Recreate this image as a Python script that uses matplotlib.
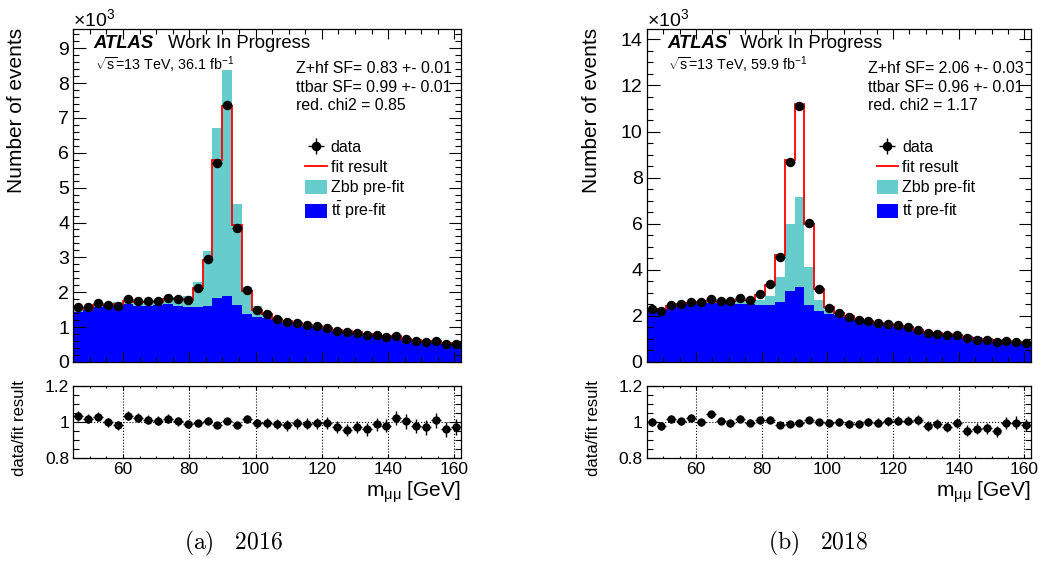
import numpy as np
import matplotlib
matplotlib.use("Agg")
import matplotlib.pyplot as plt
from matplotlib.ticker import MultipleLocator, FuncFormatter
from matplotlib.lines import Line2D
from matplotlib.patches import Patch

plt.rcParams['font.family'] = ['Liberation Sans', 'DejaVu Sans']
plt.rcParams['mathtext.fontset'] = 'custom'
plt.rcParams['mathtext.rm'] = 'Liberation Sans'
plt.rcParams['mathtext.it'] = 'Liberation Sans:italic'
plt.rcParams['mathtext.bf'] = 'Liberation Sans:bold'

# ---------------- data (values in 10^3 events) ----------------
bin_edges = np.arange(45, 163, 3)          # 39 bins of 3 GeV, 45..162 GeV

data_2016 = [1.57, 1.59, 1.69, 1.64, 1.62, 1.80, 1.76, 1.74, 1.74, 1.83, 1.82, 1.79, 2.11,
             2.95, 5.70, 7.36, 3.85, 2.07, 1.49, 1.37, 1.23, 1.14, 1.11, 1.05, 1.03, 0.97,
             0.90, 0.85, 0.84, 0.77, 0.78, 0.71, 0.75, 0.65, 0.61, 0.58, 0.61, 0.53, 0.53]
ratio_2016 = [1.033, 1.018, 1.027, 0.998, 0.982, 1.033, 1.024, 1.011, 1.006, 1.018, 1.002,
              0.989, 0.991, 1.006, 0.985, 1.004, 0.980, 1.015, 0.991, 0.994, 0.989, 0.980,
              0.993, 0.989, 0.991, 0.994, 0.972, 0.954, 0.971, 0.958, 0.987, 0.978, 1.022,
              1.002, 0.976, 0.969, 1.009, 0.958, 0.971]
tt_2016 = [1.44, 1.49, 1.59, 1.61, 1.63, 1.65, 1.62, 1.62, 1.63, 1.65, 1.61, 1.58, 1.57,
           1.62, 1.84, 1.90, 1.63, 1.37, 1.30, 1.26, 1.22, 1.13, 1.09, 1.04, 0.99, 0.96,
           0.92, 0.87, 0.84, 0.79, 0.76, 0.73, 0.70, 0.65, 0.62, 0.61, 0.58, 0.55, 0.54]
zbb_2016 = [0.07, 0.05, 0.05, 0.05, 0.09, 0.11, 0.13, 0.14, 0.15, 0.17, 0.26, 0.32, 0.73,
            1.57, 4.87, 6.48, 2.89, 0.79, 0.31, 0.18, 0.07, 0.06, 0.05, 0.05, 0.04, 0.04,
            0.04, 0.03, 0.03, 0.03, 0.03, 0.03, 0.03, 0.02, 0.02, 0.02, 0.02, 0.02, 0.02]

data_2018 = [2.30, 2.23, 2.48, 2.51, 2.61, 2.59, 2.75, 2.63, 2.63, 2.76, 2.70, 2.93, 3.39,
             4.57, 8.67, 11.13, 6.04, 3.16, 2.35, 2.13, 1.97, 1.83, 1.79, 1.70, 1.65, 1.59,
             1.52, 1.40, 1.28, 1.23, 1.17, 1.15, 1.02, 0.96, 0.95, 0.87, 0.91, 0.86, 0.81]
ratio_2018 = [1.000, 0.978, 1.015, 1.002, 1.024, 0.998, 1.042, 1.007, 0.993, 1.018, 0.996,
              1.009, 1.013, 0.982, 0.989, 0.996, 1.009, 0.998, 0.993, 0.998, 0.989, 0.989,
              1.000, 0.996, 1.002, 1.006, 1.006, 1.009, 0.978, 0.987, 0.971, 0.994, 0.952,
              0.963, 0.965, 0.947, 0.993, 0.996, 0.982]
tt_2018 = [2.25, 2.26, 2.43, 2.49, 2.53, 2.55, 2.57, 2.56, 2.55, 2.53, 2.51, 2.48, 2.46,
           2.61, 3.08, 3.27, 2.48, 2.20, 2.09, 2.05, 1.97, 1.82, 1.75, 1.68, 1.62, 1.53,
           1.46, 1.36, 1.32, 1.27, 1.21, 1.17, 1.13, 1.07, 1.03, 0.98, 0.97, 0.91, 0.87]
zbb_2018 = [0.07, 0.06, 0.06, 0.07, 0.07, 0.08, 0.09, 0.10, 0.11, 0.14, 0.16, 0.22, 0.40,
            1.10, 2.91, 3.90, 1.66, 0.49, 0.17, 0.10, 0.07, 0.06, 0.06, 0.05, 0.05, 0.05,
            0.04, 0.04, 0.04, 0.03, 0.03, 0.03, 0.03, 0.03, 0.03, 0.02, 0.02, 0.02, 0.02]

lumi_labels = [r'$\sqrt{\mathrm{s}}$=13 TeV, 36.1 fb$^{-1}$',
               r'$\sqrt{\mathrm{s}}$=13 TeV, 59.9 fb$^{-1}$']
sf_labels = [["Z+hf SF= 0.83 +- 0.01", "ttbar SF= 0.99 +- 0.01", "red. chi2 = 0.85"],
             ["Z+hf SF= 2.06 +- 0.03", "ttbar SF= 0.96 +- 0.01", "red. chi2 = 1.17"]]
captions = [r'$\mathrm{(a)\quad 2016}$', r'$\mathrm{(b)\quad 2018}$']
legend_labels = ["data", "fit result", "Zbb pre-fit", r"$\mathrm{t\bar{t}}$ pre-fit"]

panels = [
    dict(data=data_2016, ratio=ratio_2016, tt=tt_2016, zbb=zbb_2016, ymax=9.55,
         ymajor=1, yminor=0.2, lumi=lumi_labels[0], sf=sf_labels[0], cap=captions[0]),
    dict(data=data_2018, ratio=ratio_2018, tt=tt_2018, zbb=zbb_2018, ymax=14.45,
         ymajor=2, yminor=0.5, lumi=lumi_labels[1], sf=sf_labels[1], cap=captions[1]),
]

# ---------------- layout (pixels) ----------------
W, H = 1046, 585
fig = plt.figure(figsize=(W / 100, H / 100), dpi=100)

def frac_rect(x0, x1, ytop, ybot):
    return [x0 / W, 1 - ybot / H, (x1 - x0) / W, (ybot - ytop) / H]

x_ranges = [(73.3, 461.0), (646.7, 1031.0)]
ylab_x = [17, 591.7]
rlab_x = [19, 594]
cap_x = [234, 818]

CYAN = '#66cccc'
BLUE = '#0000ff'
centers = 0.5 * (bin_edges[:-1] + bin_edges[1:])
halfw = 0.5 * np.diff(bin_edges)

for i, p in enumerate(panels):
    x0, x1 = x_ranges[i]
    ax = fig.add_axes(frac_rect(x0, x1, 29, 362))
    rax = fig.add_axes(frac_rect(x0, x1, 385.7, 458))

    data = np.array(p['data'])
    ratio = np.array(p['ratio'])
    tt = np.array(p['tt'])
    zbb = np.array(p['zbb'])
    fit = data / ratio
    derr = np.sqrt(data * 1000.0) / 1000.0

    ax.stairs(tt, bin_edges, fill=True, color=BLUE, lw=0)
    ax.stairs(tt + zbb, bin_edges, baseline=tt, fill=True, color=CYAN, lw=0)
    ax.stairs(fit, bin_edges, baseline=None, color='red', lw=1.3)
    eb = ax.errorbar(centers, data, xerr=halfw, yerr=derr, fmt='o', color='black',
                     ms=5.8, elinewidth=1.0, capsize=0, zorder=5)

    ax.set_xlim(bin_edges[0], bin_edges[-1])
    ax.set_ylim(0, p['ymax'])
    ax.xaxis.set_major_locator(MultipleLocator(20))
    ax.xaxis.set_minor_locator(MultipleLocator(5))
    ax.yaxis.set_major_locator(MultipleLocator(p['ymajor']))
    ax.yaxis.set_minor_locator(MultipleLocator(p['yminor']))
    ax.yaxis.set_major_formatter(FuncFormatter(lambda v, pos: '%g' % v))
    ax.tick_params(which='both', direction='in', top=True, right=True, labelbottom=False,
                   labelsize=14, width=0.8, pad=3)
    ax.tick_params(axis='y', which='major', length=9)
    ax.tick_params(axis='y', which='minor', length=4.5)
    ax.tick_params(axis='x', which='major', length=7)
    ax.tick_params(axis='x', which='minor', length=3.5)
    for s in ax.spines.values():
        s.set_linewidth(0.9)

    # texts
    ax.text(0.053, 0.955, 'ATLAS', transform=ax.transAxes, fontsize=13.3,
            fontweight='bold', fontstyle='italic', va='center', ha='left')
    ax.text(0.243, 0.955, 'Work In Progress', transform=ax.transAxes, fontsize=13.3,
            va='center', ha='left')
    ax.text(0.055, 0.892, p['lumi'], transform=ax.transAxes, fontsize=10.3,
            va='center', ha='left')
    for k, line in enumerate(p['sf']):
        ax.text(0.575, 0.880 - k * 0.0555, line, transform=ax.transAxes, fontsize=11.4,
                va='center', ha='left')

    handles = [eb, Line2D([], [], color='red', lw=1.3),
               Patch(facecolor=CYAN, edgecolor='none'),
               Patch(facecolor=BLUE, edgecolor='none')]
    ax.legend(handles, legend_labels, loc='upper left', bbox_to_anchor=(0.598, 0.668),
              frameon=False, fontsize=11.5, handlelength=1.35, handleheight=0.95,
              handletextpad=0.25, labelspacing=0.3, borderpad=0, borderaxespad=0)

    fig.text(x0 / W, 1 - 19 / H, r'$\times10^{3}$', fontsize=14, ha='left', va='center')
    fig.text(ylab_x[i] / W, 1 - 28 / H, 'Number of events', rotation=90, fontsize=15,
             ha='center', va='top')

    # ratio panel
    rax.errorbar(centers, ratio, xerr=halfw, yerr=derr / fit, fmt='o', color='black',
                 ms=5.0, elinewidth=1.0, capsize=0, zorder=5)
    rax.set_xlim(bin_edges[0], bin_edges[-1])
    rax.set_ylim(0.8, 1.2)
    rax.xaxis.set_major_locator(MultipleLocator(20))
    rax.xaxis.set_minor_locator(MultipleLocator(5))
    rax.yaxis.set_major_locator(MultipleLocator(0.2))
    rax.yaxis.set_minor_locator(MultipleLocator(0.05))
    rax.yaxis.set_major_formatter(FuncFormatter(lambda v, pos: '%g' % round(v, 2)))
    rax.grid(True, which='major', axis='x', color='black', ls=':', lw=0.8)
    rax.axhline(1.0, color='black', ls=':', lw=0.8)
    rax.tick_params(which='both', direction='in', top=True, right=True, labelsize=12.5,
                    width=0.8, pad=3)
    rax.tick_params(axis='y', which='major', length=9)
    rax.tick_params(axis='y', which='minor', length=4.5)
    rax.tick_params(axis='x', which='major', length=3)
    rax.tick_params(axis='x', which='minor', length=1.5)
    for s in rax.spines.values():
        s.set_linewidth(0.9)

    fig.text(rlab_x[i] / W, 1 - 380 / H, 'data/fit result', rotation=90, fontsize=12,
             ha='center', va='top')
    fig.text(x1 / W, 1 - 492 / H, r'$\mathrm{m}_{\mathrm{\mu\mu}}$ [GeV]', fontsize=15,
             ha='right', va='center')

    fig.text(cap_x[i] / W, 1 - 543 / H, p['cap'], fontsize=17, ha='center', va='center',
             math_fontfamily='cm')

fig.savefig('out.png', dpi=100)
